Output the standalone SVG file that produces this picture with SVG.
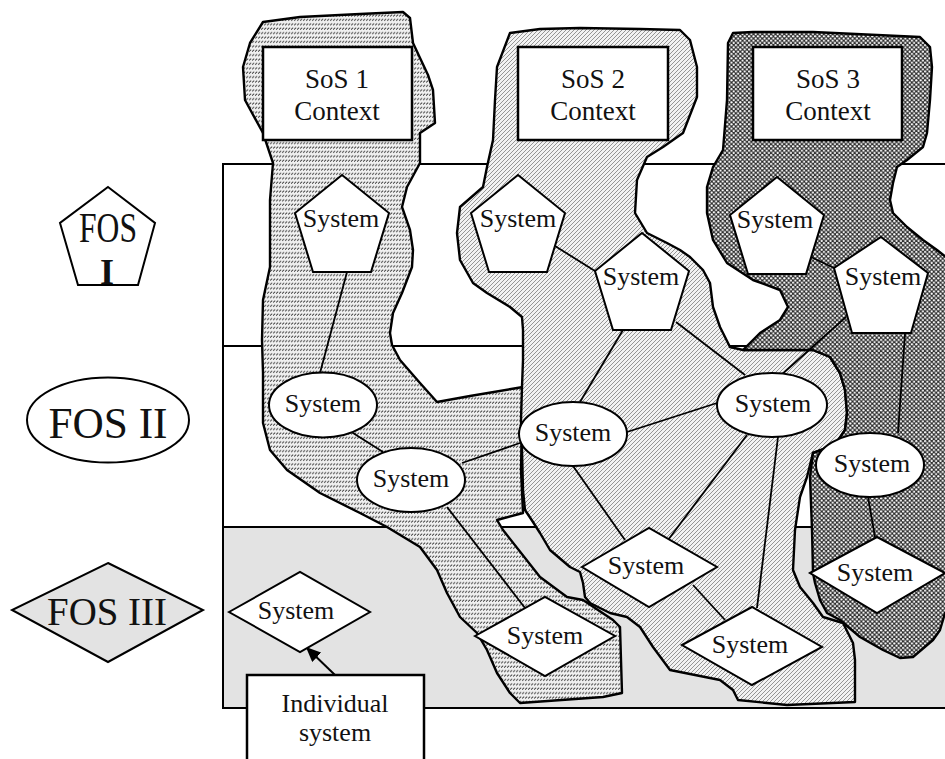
<svg xmlns="http://www.w3.org/2000/svg" width="945" height="759" viewBox="0 0 945 759">
<defs>
<pattern id="hatch1" patternUnits="userSpaceOnUse" width="3" height="4.4">
<rect width="3" height="4.4" fill="#f0f0f0"/>
<path d="M0,3.2 L2.2,1.4" stroke="#333" stroke-width="1"/>
</pattern>
<pattern id="hatch2" patternUnits="userSpaceOnUse" width="4" height="4">
<rect width="4" height="4" fill="#f2f2f2"/>
<path d="M-1,1 L1,-1 M0,4 L4,0 M3,5 L5,3" stroke="#8a8a8a" stroke-width="0.9"/>
</pattern>
<pattern id="hatch3" patternUnits="userSpaceOnUse" width="4.4" height="4.4">
<rect width="4.4" height="4.4" fill="#2e2e2e"/>
<circle cx="1.1" cy="1.1" r="1.1" fill="#ffffff"/>
<circle cx="3.3" cy="3.3" r="1.1" fill="#ffffff"/>
</pattern>
<marker id="arrow" viewBox="0 0 10 10" refX="9" refY="5" markerWidth="15" markerHeight="13" orient="auto-start-reverse" markerUnits="userSpaceOnUse" preserveAspectRatio="none">
<path d="M0,0 L10,5 L0,10 z" fill="#000"/>
</marker>
<style>
.t{font-family:"Liberation Serif","Times New Roman",serif;fill:#111;text-anchor:middle}
.sys{font-size:26px}
.ctx{font-size:27px}
.node{fill:#fff;stroke:#000;stroke-width:2}
.box{fill:#fff;stroke:#000;stroke-width:2.5}
.region{stroke:#000;stroke-width:2.4;stroke-linejoin:round}
.edge{stroke:#000;stroke-width:1.8;fill:none}
.frame{stroke:#000;stroke-width:2;fill:none}
</style>
</defs>
<rect width="945" height="759" fill="#fff"/>

<g id="frame">
<rect x="223" y="164" width="730" height="182" fill="#fff"/>
<rect x="223" y="346" width="730" height="181" fill="#fff"/>
<rect x="223" y="527" width="730" height="181" fill="#e3e3e3"/>
<path class="frame" d="M953,164 H223 V708 H953 M223,346 H953 M223,527 H953"/>
</g>

<g id="legend">
<g id="fos1">
<polygon class="node" points="108,187 155,223 138,285 78,285 60,223"/>
<text class="t" x="108" y="242" font-size="42" textLength="58" lengthAdjust="spacingAndGlyphs">FOS</text>
<text class="t" x="107" y="284" font-size="36" font-weight="bold">I</text>
</g>
<g id="fos2">
<ellipse class="node" cx="108" cy="420" rx="81" ry="42.5"/>
<text class="t" x="108" y="438" font-size="44" textLength="119" lengthAdjust="spacingAndGlyphs">FOS II</text>
</g>
<g id="fos3">
<polygon class="node" style="fill:#e3e3e3" points="108,563 203,610 108,662 12,610"/>
<text class="t" x="107" y="625" font-size="40" textLength="120" lengthAdjust="spacingAndGlyphs">FOS III</text>
</g>
</g>

<g id="sos1-region">
<path class="region" fill="url(#hatch1)" d="M263,22 L300,17 L360,14 L403,12 L410,18 L413,43 L428,75 L433,90 L435,123 L420,133 L420,163 L407,187 L402,207 L410,230 L413,250 L412,267 L402,293 L393,313 L390,333 L392,345 L400,360 L420,383 L437,402 L470,396 L523,387 L522,420 L521,470 L523,513 L497,520 L503,530 L540,577 L567,597 L583,600 L613,620 L620,627 L622,693 L603,697 L520,703 L517,700 L510,693 L497,673 L487,650 L477,633 L460,617 L447,593 L437,570 L420,547 L387,527 L360,513 L320,493 L287,470 L270,450 L263,423 L263,373 L262,340 L263,300 L270,267 L270,200 L273,163 L263,133 L245,100 L243,67 L250,43 Z"/>
</g>

<g id="sos2-region">
<path class="region" fill="url(#hatch2)" d="M510,33 L540,29 L580,28 L640,29 L680,30 L690,40 L697,67 L697,97 L683,133 L663,147 L647,157 L637,180 L635,213 L647,233 L667,243 L680,250 L690,257 L703,270 L710,283 L713,307 L720,327 L730,347 L743,350 L813,350 L830,357 L840,373 L845,390 L847,413 L845,430 L835,445 L813,453 L807,477 L800,497 L795,530 L793,570 L800,587 L813,603 L823,617 L843,623 L853,643 L855,660 L855,702 L787,705 L738,700 L733,690 L720,680 L670,670 L653,647 L640,627 L627,617 L610,613 L590,603 L585,597 L583,583 L580,572 L570,567 L550,550 L540,533 L533,522 L525,510 L523,490 L522,450 L521,420 L522,387 L523,360 L523,330 L522,317 L510,307 L487,293 L473,283 L460,260 L457,233 L460,207 L483,187 L487,167 L493,140 L495,100 L497,67 Z"/>
</g>

<g id="sos3-region">
<path class="region" fill="url(#hatch3)" d="M728,43 L733,33 L753,32 L813,32 L920,37 L930,47 L932,67 L930,100 L927,133 L923,147 L907,160 L897,167 L893,183 L890,200 L893,213 L907,227 L923,240 L937,250 L952,262 L952,612 L945,613 L940,630 L933,640 L913,657 L900,658 L883,650 L860,637 L840,620 L827,613 L820,600 L815,583 L813,573 L812,530 L810,477 L813,453 L835,445 L845,430 L847,413 L845,390 L840,373 L830,357 L813,350 L743,350 L760,333 L780,320 L788,307 L780,290 L753,280 L727,263 L713,240 L707,213 L707,187 L713,167 L723,150 L727,100 Z"/>
</g>

<g id="sos1-context">
<rect class="box" x="263" y="47" width="149" height="93"/>
<text class="t ctx" x="337" y="88">SoS 1</text>
<text class="t ctx" x="337" y="120">Context</text>
</g>
<g id="sos2-context">
<rect class="box" x="518" y="47" width="150" height="93"/>
<text class="t ctx" x="593" y="88">SoS 2</text>
<text class="t ctx" x="593" y="120">Context</text>
</g>
<g id="sos3-context">
<rect class="box" x="753" y="47" width="149" height="93"/>
<text class="t ctx" x="828" y="88">SoS 3</text>
<text class="t ctx" x="828" y="120">Context</text>
</g>

<g id="connectors">
<line class="edge" x1="347" y1="272" x2="320" y2="373"/>
<line class="edge" x1="353" y1="433" x2="383" y2="452"/>
<line class="edge" x1="462" y1="463" x2="520" y2="443"/>
<line class="edge" x1="447" y1="507" x2="525" y2="608"/>
<line class="edge" x1="555" y1="246" x2="595" y2="271"/>
<line class="edge" x1="623" y1="330" x2="580" y2="402"/>
<line class="edge" x1="676" y1="322" x2="745" y2="375"/>
<line class="edge" x1="811" y1="257" x2="834" y2="268"/>
<line class="edge" x1="846" y1="317" x2="780" y2="376"/>
<line class="edge" x1="905" y1="334" x2="898" y2="433"/>
<line class="edge" x1="868" y1="497" x2="875" y2="537"/>
<line class="edge" x1="627" y1="432" x2="717" y2="403"/>
<line class="edge" x1="747" y1="435" x2="668" y2="540"/>
<line class="edge" x1="778" y1="437" x2="757" y2="608"/>
<line class="edge" x1="573" y1="466" x2="625" y2="540"/>
<line class="edge" x1="693" y1="585" x2="725" y2="620"/>
<line class="edge" style="stroke-width:2" x1="335" y1="675" x2="307" y2="648" marker-end="url(#arrow)"/>
</g>

<g id="p1"><polygon class="node" points="342,175 389,213 371,272 313,272 295,213"/><text class="t sys" x="341" y="227">System</text></g>
<g id="p2"><polygon class="node" points="518,175 565,213 547,272 489,272 471,213"/><text class="t sys" x="518" y="227">System</text></g>
<g id="p3"><polygon class="node" points="642,233 689,271 671,330 613,330 595,271"/><text class="t sys" x="641" y="285">System</text></g>
<g id="p4"><polygon class="node" points="777,177 824,215 806,274 748,274 730,215"/><text class="t sys" x="775" y="228">System</text></g>
<g id="p5"><polygon class="node" points="881,237 928,273 911,333 852,333 834,268"/><text class="t sys" x="883" y="285">System</text></g>

<g id="e1"><ellipse class="node" cx="323" cy="405" rx="54" ry="32.5"/><text class="t sys" x="323" y="412">System</text></g>
<g id="e2"><ellipse class="node" cx="411" cy="480" rx="54" ry="32"/><text class="t sys" x="411" y="487">System</text></g>
<g id="e3"><ellipse class="node" cx="573" cy="434" rx="54" ry="32"/><text class="t sys" x="573" y="441">System</text></g>
<g id="e4"><ellipse class="node" cx="772" cy="405" rx="55" ry="32"/><text class="t sys" x="773" y="412">System</text></g>
<g id="e5"><ellipse class="node" cx="870" cy="465" rx="54" ry="32"/><text class="t sys" x="872" y="472">System</text></g>

<g id="d1"><polygon class="node" points="475,636 545,597 615,636 545,676"/><text class="t sys" x="545" y="644">System</text></g>
<g id="d2"><polygon class="node" points="582,567 649,528 717,567 649,607"/><text class="t sys" x="646" y="574">System</text></g>
<g id="d3"><polygon class="node" points="682,645 752,607 822,647 752,685"/><text class="t sys" x="750" y="653">System</text></g>
<g id="d4"><polygon class="node" points="810,573 877,537 945,573 877,613"/><text class="t sys" x="875" y="581">System</text></g>
<g id="d-individual"><polygon class="node" points="229,612 300,572 370,612 300,652"/><text class="t sys" x="296" y="619">System</text></g>

<g id="individual-label">
<rect class="box" x="247" y="675" width="177" height="100"/>
<text class="t sys" x="335" y="712">Individual</text>
<text class="t sys" x="335" y="741">system</text>
</g>
</svg>
